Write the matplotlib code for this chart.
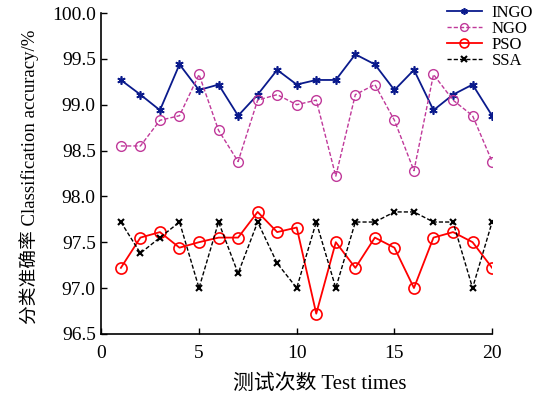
import matplotlib
matplotlib.use('Agg')
import matplotlib.pyplot as plt

plt.rcParams['font.family'] = ['Liberation Serif', 'Noto Sans CJK SC']
plt.rcParams['font.size'] = 14

# Données
tests = list(range(1, 21))
ingo = [99.27, 99.11, 98.94, 99.44, 99.16, 99.22, 98.88, 99.11, 99.38, 99.22,
        99.27, 99.27, 99.55, 99.44, 99.16, 99.38, 98.94, 99.11, 99.22, 98.88]
ngo = [98.55, 98.55, 98.83, 98.88, 99.33, 98.72, 98.38, 99.05, 99.11, 99.00,
       99.05, 98.22, 99.11, 99.22, 98.83, 98.28, 99.33, 99.05, 98.88, 98.38]
pso = [97.22, 97.55, 97.61, 97.44, 97.50, 97.55, 97.55, 97.83, 97.61, 97.66,
       96.72, 97.50, 97.22, 97.55, 97.44, 97.00, 97.55, 97.61, 97.50, 97.22]
ssa = [97.72, 97.38, 97.55, 97.72, 97.00, 97.72, 97.16, 97.72, 97.27, 97.00,
       97.72, 97.00, 97.72, 97.72, 97.83, 97.83, 97.72, 97.72, 97.00, 97.72]

fig = plt.figure(figsize=(5.39, 3.96), dpi=100)
ax = fig.add_axes([0.188, 0.157, 0.725, 0.81])

ax.plot(tests, ingo, color='#0a1a8c', linestyle='-', marker=(6, 2, 0),
        markersize=6, markeredgewidth=1.2, linewidth=1.3, label='INGO')
ax.plot(tests, ngo, color='#c0399a', linestyle='--', dashes=(3, 1.5), marker='o',
        markersize=7, markerfacecolor='none', markeredgewidth=1.0, linewidth=1.0,
        label='NGO')
ax.plot(tests, pso, color='#ff0000', linestyle='-', marker='o',
        markersize=8, markerfacecolor='none', markeredgewidth=1.2, linewidth=1.3,
        label='PSO')
ax.plot(tests, ssa, color='black', linestyle='--', dashes=(3, 1.5), marker='x',
        markersize=5, markeredgewidth=1.5, linewidth=1.0, label='SSA')

ax.set_xlim(0, 20)
ax.set_ylim(96.5, 100.0)
ax.set_xticks([0, 5, 10, 15, 20])
ax.set_yticks([96.5, 97.0, 97.5, 98.0, 98.5, 99.0, 99.5, 100.0])
ax.set_yticklabels(['96.5', '97.0', '97.5', '98.0', '98.5', '99.0', '99.5', '100.0'])
ax.tick_params(direction='in', length=4, width=1, labelsize=14)
ax.tick_params(axis='x', pad=8)
ax.tick_params(axis='y', pad=4)
ax.spines['top'].set_visible(False)
ax.spines['right'].set_visible(False)
ax.spines['left'].set_linewidth(1.2)
ax.spines['bottom'].set_linewidth(1.2)

ax.set_xlabel('测试次数 Test times', fontsize=15)
ax.xaxis.set_label_coords(0.56, -0.125)
ax.set_ylabel('分类准确率 Classification accuracy/%', fontsize=13.5)
ax.yaxis.set_label_coords(-0.16, 0.49)

leg = ax.legend(loc='upper left', bbox_to_anchor=(0.829, 0.987),
                bbox_transform=fig.transFigure, frameon=False,
                fontsize=12, handlelength=2.1, handletextpad=0.6,
                labelspacing=0, borderpad=0, borderaxespad=0, markerscale=0.8)

fig.savefig('out.png', dpi=100)
